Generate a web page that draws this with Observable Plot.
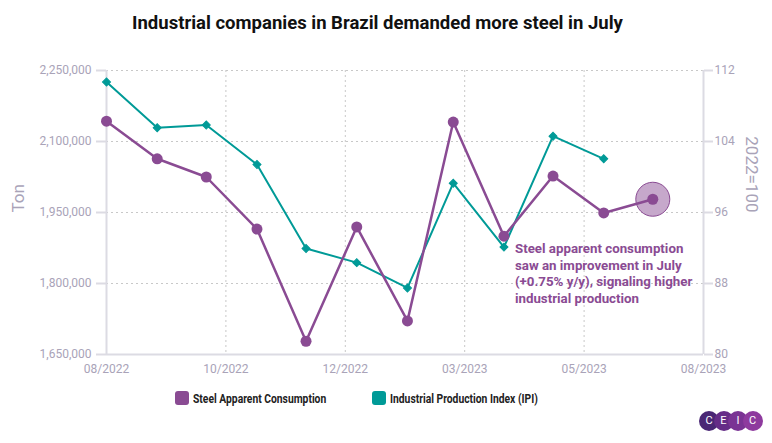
<!DOCTYPE html>
<html>
<head>
<meta charset="utf-8">
<script src="https://cdn.jsdelivr.net/npm/d3@7"></script>
<script src="https://cdn.jsdelivr.net/npm/@observablehq/plot@0.6"></script>
<style>
  html, body { margin: 0; padding: 0; background: #fff; }
  body { width: 772px; height: 443px; overflow: hidden; font-family: Roboto, "Noto Sans", sans-serif; position: relative; }
  #title { height: 45px; line-height: 46px; text-align: center; font-weight: 700; font-size: 18.5px; color: #111; padding-right: 17px; box-sizing: border-box; width: 772px; }
  #chart { height: 340px; }
  #legend { position: absolute; top: 389px; left: 0; width: 772px; height: 18px; font-size: 12.5px; font-weight: 700; color: #222; }
  .li { position: absolute; top: 0; display: flex; align-items: center; height: 18px; }
  .sw { width: 14px; height: 14px; border-radius: 3px; margin-right: 4px; flex: none; }
  .lt { display: inline-block; transform: scaleX(0.825); transform-origin: left center; white-space: nowrap; }
  #logo { position: absolute; left: 699px; top: 411px; width: 64px; height: 20px; }
  #logo span { position: absolute; top: 0; width: 20px; height: 20px; border-radius: 50%; color: #fff; font-size: 11px; line-height: 20px; text-align: center; font-family: Roboto, sans-serif; }
</style>
</head>
<body>
<div id="title"></div>
<div id="chart"></div>
<div id="legend"></div>
<div id="logo"></div>
<script>
// ---- Data ----
const titleText = "Industrial companies in Brazil demanded more steel in July";
const months = ["2022-08-01","2022-09-01","2022-10-01","2022-11-01","2022-12-01","2023-01-01",
                "2023-02-01","2023-03-01","2023-04-01","2023-05-01","2023-06-01","2023-07-01"];
const steelConsumption = [2143000, 2063500, 2025000, 1915000, 1678000, 1919500,
                          1721000, 2141000, 1900000, 2027000, 1949000, 1978000];
const ipiMonths = months.slice(0, 11);
const ipiValues = [110.7, 105.55, 105.85, 101.4, 91.95, 90.35, 87.5, 99.3, 92.1, 104.6, 102.05];
const leftTicks = [1650000, 1800000, 1950000, 2100000, 2250000];
const rightTicks = [80, 88, 96, 104, 112];
const xTickLabels = ["08/2022","10/2022","12/2022","03/2023","05/2023","08/2023"];
const xDomain = ["2022-08-01", "2023-08-01"];
const seriesNames = ["Steel Apparent Consumption", "Industrial Production Index (IPI)"];
const leftLabel = "Ton";
const rightLabel = "2022=100";
const annotation = "Steel apparent consumption\nsaw an improvement in July\n(+0.75% y/y), signaling higher\nindustrial production";
const annotationMonth = "2023-04-01";
const logoLetters = ["C","E","I","C"];

// ---- Styles ----
const purple = "#8a4b93";
const teal = "#009a97";
const axisGray = "#a9a3b8";
const lineGray = "#dcdbe3";

const parse = d3.utcParse("%Y-%m-%d");
const d0 = parse(xDomain[0]), d1 = parse(xDomain[1]);
const steel = months.map((m, i) => ({date: parse(m), value: steelConsumption[i]}));
const [yMin, yMax] = [leftTicks[0], leftTicks[leftTicks.length - 1]];
const [rMin, rMax] = [rightTicks[0], rightTicks[rightTicks.length - 1]];
const toLeft = v => yMin + (v - rMin) / (rMax - rMin) * (yMax - yMin);
const ipi = ipiMonths.map((m, i) => ({date: parse(m), value: ipiValues[i], y: toLeft(ipiValues[i])}));
// x ticks: equally spaced over the domain
const nT = xTickLabels.length - 1;
const xTicks = xTickLabels.map((_, i) => new Date(+d0 + (d1 - d0) * i / nT));
const last = steel[steel.length - 1];
const annPoint = steel.find(d => +d.date === +parse(annotationMonth));

document.getElementById("title").textContent = titleText;

const chart = Plot.plot({
  width: 772,
  height: 340,
  marginLeft: 106,
  marginRight: 69,
  marginTop: 25,
  marginBottom: 31,
  style: {fontFamily: "Roboto, sans-serif", fontSize: "12px", overflow: "visible"},
  x: {type: "utc", domain: [d0, d1]},
  y: {domain: [yMin, yMax]},
  marks: [
    Plot.gridY(leftTicks, {stroke: "#c8c8c8", strokeOpacity: 1, strokeDasharray: "2,3"}),
    Plot.gridX(xTicks, {stroke: "#c8c8c8", strokeOpacity: 1, strokeDasharray: "2,3"}),
    Plot.ruleX([d0, d1], {stroke: lineGray, strokeWidth: 2}),
    Plot.ruleY([yMin], {stroke: lineGray, strokeWidth: 2}),
    Plot.axisY(leftTicks, {anchor: "left", tickFormat: d3.format(","), tickSize: 10, tickPadding: 5,
      stroke: lineGray, strokeWidth: 2, color: axisGray, fontSize: 12, label: null}),
    Plot.axisY(rightTicks.map(toLeft), {anchor: "right", tickFormat: (d, i) => rightTicks[i], tickSize: 9, tickPadding: 2,
      stroke: lineGray, strokeWidth: 2, color: axisGray, fontSize: 12, label: null}),
    Plot.axisX(xTicks, {anchor: "bottom", tickFormat: (d, i) => xTickLabels[i], tickSize: 0, tickPadding: 10,
      color: axisGray, fontSize: 12, label: null}),
    Plot.text([leftLabel], {frameAnchor: "left", rotate: -90, dx: -88, fill: axisGray, fontSize: 17}),
    Plot.text([rightLabel], {frameAnchor: "right", rotate: 90, dx: 48, fill: axisGray, fontSize: 17}),
    Plot.dot([last], {x: "date", y: "value", r: 17, fill: "#c6a8cb", stroke: purple, strokeWidth: 1}),
    Plot.line(ipi, {x: "date", y: "y", stroke: teal, strokeWidth: 2}),
    Plot.dot(ipi, {x: "date", y: "y", symbol: "square", rotate: 45, r: 3.2, fill: teal, stroke: teal, strokeWidth: 1}),
    Plot.line(steel, {x: "date", y: "value", stroke: purple, strokeWidth: 2.5}),
    Plot.dot(steel, {x: "date", y: "value", r: 5.5, fill: purple}),
    Plot.text([annPoint], {x: "date", y: "value", text: () => annotation, dx: 11, dy: 5,
      textAnchor: "start", lineAnchor: "top", lineHeight: 1.25, fill: purple, fontWeight: 700, fontSize: 13.3})
  ]
});
document.getElementById("chart").appendChild(chart);

// legend
const legend = document.getElementById("legend");
const legendX = [175, 372];
seriesNames.forEach((name, i) => {
  const item = document.createElement("div");
  item.className = "li";
  item.style.left = legendX[i] + "px";
  const sw = document.createElement("div");
  sw.className = "sw";
  sw.style.background = i === 0 ? purple : teal;
  const t = document.createElement("span");
  t.className = "lt";
  t.textContent = name;
  item.appendChild(sw); item.appendChild(t);
  legend.appendChild(item);
});

// logo
const logoColors = ["#4a2775", "#652c87", "#7a3394", "#8e3a9e"];
const logo = document.getElementById("logo");
logoLetters.forEach((l, i) => {
  const s = document.createElement("span");
  s.textContent = l;
  s.style.left = (i * 14.5) + "px";
  s.style.background = logoColors[i];
  logo.appendChild(s);
});
</script>
</body>
</html>
